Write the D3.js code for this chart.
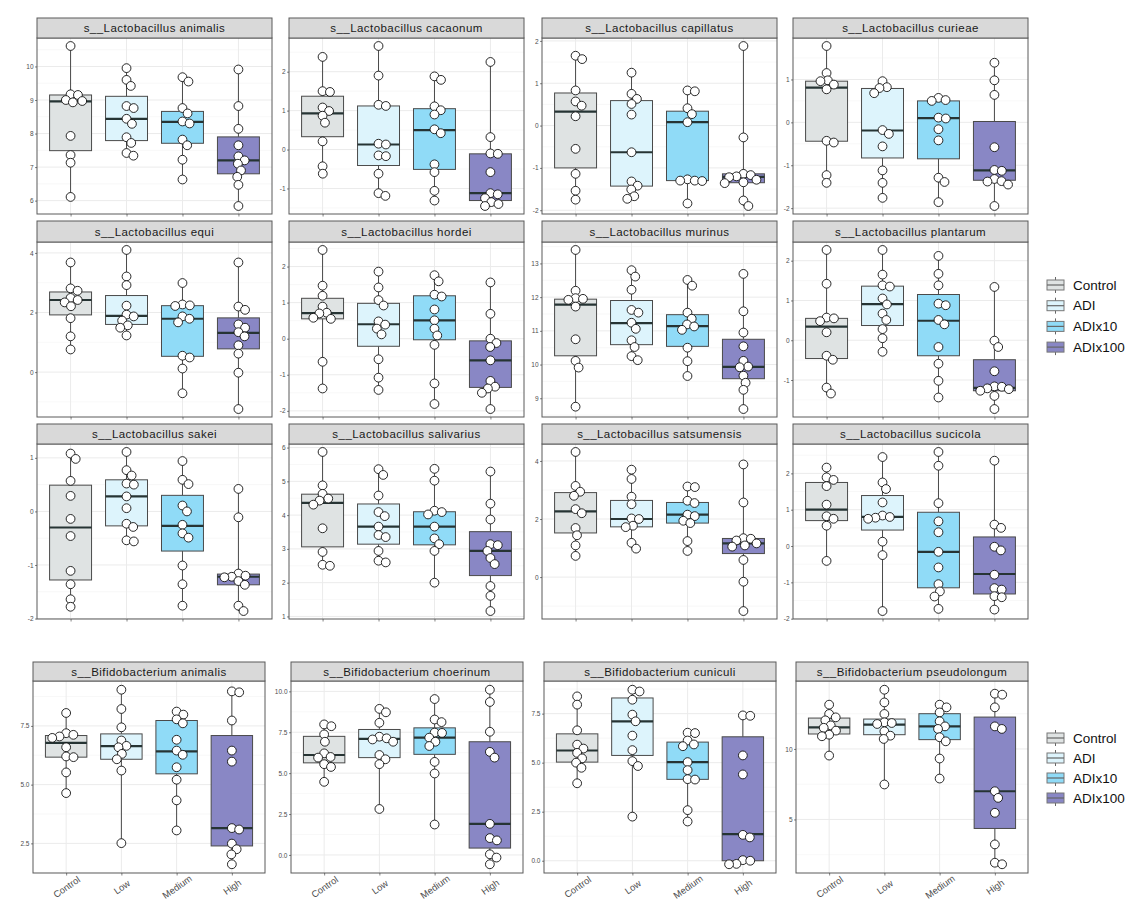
<!DOCTYPE html>
<html><head><meta charset="utf-8">
<script src="https://cdn.jsdelivr.net/npm/d3@7"></script>
<style>body{margin:0;background:#fff}svg{display:block}</style>
</head><body>
<svg id="chart" width="1142" height="914"></svg>
<script>
// ---------- DATA ----------
const groups = ["Control", "ADI", "ADIx10", "ADIx100"];
const doseLabels = ["Control", "Low", "Medium", "High"];
const groupColors = ["#dfe3e3", "#ddf4fc", "#90dbf7", "#8987c5"];

const panelTitles = [
  "s__Lactobacillus animalis", "s__Lactobacillus cacaonum", "s__Lactobacillus capillatus", "s__Lactobacillus curieae",
  "s__Lactobacillus equi", "s__Lactobacillus hordei", "s__Lactobacillus murinus", "s__Lactobacillus plantarum",
  "s__Lactobacillus sakei", "s__Lactobacillus salivarius", "s__Lactobacillus satsumensis", "s__Lactobacillus sucicola",
  "s__Bifidobacterium animalis", "s__Bifidobacterium choerinum", "s__Bifidobacterium cuniculi", "s__Bifidobacterium pseudolongum"
];

const tickLabels = [
  ["6","7","8","9","10"], ["-1","0","1","2"], ["-2","-1","0","1","2"], ["-2","-1","0","1"],
  ["0","2","4"], ["-2","-1","0","1","2"], ["9","10","11","12","13"], ["-1","0","1","2"],
  ["-2","-1","0","1"], ["1","2","3","4","5","6"], ["0","2","4"], ["-2","-1","0","1","2"],
  ["2.5","5.0","7.5"], ["0.0","2.5","5.0","7.5","10.0"], ["0.0","2.5","5.0","7.5"], ["5","10"]
];

// point values per group [Control, Low, Medium, High]
const lAnimalis = [
  [10.61, 9.17, 9.15, 9.0, 8.97, 8.93, 7.93, 7.36, 7.13, 6.11],
  [9.95, 9.6, 9.42, 8.82, 8.76, 8.44, 8.29, 7.89, 7.72, 7.42, 7.34],
  [9.68, 9.55, 8.76, 8.6, 8.36, 8.3, 7.82, 7.65, 7.22, 6.63],
  [9.91, 8.82, 8.14, 7.65, 7.32, 7.2, 7.1, 6.9, 6.71, 6.47, 5.84]];
const lCacaonum = [
  [2.38, 1.5, 1.48, 1.08, 0.99, 0.87, 0.69, 0.21, -0.43, -0.62],
  [2.66, 1.9, 1.15, 1.12, 0.15, 0.13, -0.15, -0.17, -0.62, -1.12, -1.19],
  [1.88, 1.79, 1.11, 1.01, 0.9, 0.52, 0.42, -0.38, -0.58, -1.06, -1.31],
  [2.25, 0.32, -0.1, -0.11, -0.58, -1.12, -1.15, -1.25, -1.35, -1.4, -1.45]];
const lCapillatus = [
  [1.65, 1.57, 0.83, 0.57, 0.47, 0.22, -0.55, -1.14, -1.54, -1.75],
  [1.25, 0.75, 0.63, 0.51, 0.26, -0.63, -1.32, -1.42, -1.51, -1.67, -1.73],
  [0.83, 0.81, 0.41, 0.27, 0.08, -1.27, -1.3, -1.3, -1.31, -1.84],
  [1.88, -0.28, -1.14, -1.17, -1.2, -1.22, -1.28, -1.34, -1.36, -1.77, -1.9]];
const lCurieae = [
  [1.78, 1.15, 0.98, 0.96, 0.88, 0.77, -0.43, -0.47, -1.23, -1.41],
  [0.96, 0.82, 0.8, 0.68, -0.18, -0.27, -0.56, -1.12, -1.41, -1.76],
  [0.57, 0.52, 0.5, 0.11, 0.09, -0.16, -0.42, -1.29, -1.39, -1.86],
  [1.39, 0.98, 0.64, -0.58, -1.11, -1.13, -1.32, -1.37, -1.38, -1.45, -1.95]];
const lEqui = [
  [3.68, 2.81, 2.73, 2.49, 2.42, 2.34, 2.21, 1.81, 1.2, 0.76],
  [4.1, 3.21, 2.92, 2.23, 1.93, 1.87, 1.73, 1.57, 1.49, 1.23],
  [2.99, 2.27, 2.24, 2.22, 1.87, 1.79, 1.67, 0.55, 0.49, 0.12, -0.71],
  [3.68, 2.2, 2.09, 1.6, 1.49, 1.34, 1.2, 0.9, 0.62, -0.02, -1.24]];
const lHordei = [
  [2.46, 1.47, 1.19, 0.89, 0.72, 0.7, 0.58, 0.55, -0.64, -1.38],
  [1.86, 1.42, 1.07, 0.92, 0.48, 0.39, 0.28, 0.12, -0.57, -1.08, -1.42],
  [1.76, 1.59, 1.22, 1.17, 0.81, 0.51, 0.28, 0.09, -0.17, -1.24, -1.81],
  [1.56, 0.69, 0.0, -0.12, -0.23, -0.6, -1.17, -1.33, -1.38, -1.5, -1.95]];
const lMurinus = [
  [13.4, 12.19, 11.97, 11.95, 11.92, 11.72, 10.75, 10.11, 9.91, 8.75],
  [12.8, 12.61, 12.22, 11.62, 11.54, 11.24, 11.06, 10.72, 10.52, 10.25, 10.13],
  [12.51, 12.34, 11.54, 11.36, 11.19, 11.13, 11.03, 10.5, 10.1, 9.66],
  [12.69, 11.58, 10.95, 10.54, 10.11, 9.94, 9.92, 9.67, 9.46, 9.25, 8.68]];
const lPlantarum = [
  [2.27, 1.42, 0.57, 0.55, 0.48, 0.2, -0.39, -0.49, -1.19, -1.34],
  [2.27, 1.65, 1.38, 1.35, 1.05, 0.9, 0.67, 0.51, 0.28, 0.05, -0.29],
  [2.12, 1.67, 1.38, 0.92, 0.88, 0.51, 0.4, -0.17, -0.59, -1.02, -1.44],
  [1.34, -0.01, -0.17, -0.78, -1.16, -1.17, -1.21, -1.23, -1.27, -1.4, -1.73]];
const lSakei = [
  [1.08, 0.98, 0.57, 0.29, -0.14, -0.46, -1.11, -1.36, -1.64, -1.78],
  [1.11, 0.77, 0.67, 0.52, 0.5, 0.28, 0.06, -0.23, -0.29, -0.54, -0.56],
  [0.94, 0.59, 0.51, 0.11, 0.0, -0.25, -0.41, -0.49, -1.01, -1.36, -1.76],
  [0.42, -0.11, -1.16, -1.2, -1.22, -1.23, -1.3, -1.37, -1.76, -1.86]];
const lSalivarius = [
  [5.87, 4.88, 4.63, 4.49, 4.43, 4.31, 3.61, 2.91, 2.53, 2.5],
  [5.36, 5.19, 4.58, 4.09, 3.97, 3.66, 3.41, 3.35, 2.94, 2.65, 2.6],
  [5.37, 5.02, 4.13, 4.09, 4.02, 3.66, 3.31, 3.14, 2.94, 2.0],
  [5.29, 4.34, 3.87, 3.14, 3.11, 2.94, 2.73, 2.55, 1.9, 1.61, 1.16]];
const lSatsumensis = [
  [4.31, 3.14, 2.94, 2.8, 2.34, 2.2, 1.69, 1.44, 1.09, 0.73],
  [3.7, 3.38, 2.77, 2.51, 2.02, 2.0, 1.77, 1.72, 1.18, 0.98],
  [3.12, 3.1, 2.63, 2.55, 2.15, 2.1, 1.94, 1.86, 1.24, 0.9],
  [3.88, 2.57, 1.34, 1.32, 1.26, 1.16, 1.09, 1.05, 0.59, -0.16, -1.17]];
const lSucicola = [
  [2.16, 1.89, 1.82, 1.65, 1.14, 0.82, 0.75, 0.56, -0.41],
  [2.45, 1.75, 1.57, 1.2, 0.84, 0.8, 0.78, 0.75, 0.12, -0.25, -1.79],
  [2.59, 2.21, 1.18, 0.68, 0.38, -0.16, -0.59, -1.05, -1.25, -1.39, -1.73],
  [2.35, 0.59, 0.5, -0.02, -0.12, -0.79, -1.16, -1.2, -1.38, -1.41, -1.75]];
const bAnimalis = [
  [8.05, 7.19, 7.12, 7.05, 6.99, 6.59, 6.2, 6.17, 5.52, 4.64],
  [9.04, 8.22, 7.44, 6.88, 6.65, 6.59, 6.31, 6.08, 5.6, 2.51],
  [8.11, 7.98, 7.78, 7.61, 6.91, 6.45, 6.27, 5.74, 5.21, 4.33, 3.05],
  [8.97, 8.93, 7.73, 6.45, 5.98, 3.15, 3.09, 2.49, 2.25, 2.03, 1.61]];
const bChoerinum = [
  [7.98, 7.87, 7.37, 6.92, 6.21, 5.99, 5.95, 5.55, 5.38, 4.47],
  [8.93, 8.72, 8.08, 7.23, 7.13, 7.06, 6.92, 6.11, 5.85, 5.55, 2.81],
  [9.53, 8.28, 8.12, 7.48, 7.46, 7.17, 6.92, 6.66, 5.69, 4.98, 1.86],
  [10.1, 9.35, 7.53, 6.3, 5.95, 1.9, 1.03, 0.89, 0.04, -0.16, -0.57]];
const bCuniculi = [
  [8.38, 7.96, 6.65, 5.92, 5.72, 5.5, 5.22, 5.0, 4.74, 3.95],
  [8.72, 8.63, 8.21, 7.45, 7.11, 6.38, 5.64, 5.08, 4.83, 2.25],
  [6.53, 6.51, 6.13, 5.93, 5.84, 5.03, 4.62, 4.16, 4.14, 2.58, 2.0],
  [7.41, 7.39, 5.37, 4.4, 1.32, 1.19, 0.03, 0.0, -0.16, -0.18]];
const bPseudolongum = [
  [13.14, 12.48, 12.24, 12.03, 11.67, 11.5, 11.3, 11.01, 10.9, 9.53],
  [14.2, 13.3, 12.48, 11.89, 11.84, 11.77, 11.25, 10.94, 10.71, 7.48],
  [13.14, 12.95, 12.59, 11.96, 11.6, 11.42, 10.83, 10.54, 9.32, 7.9],
  [13.92, 13.85, 12.95, 11.6, 11.42, 7.0, 6.53, 5.47, 3.23, 1.93, 1.82]];

// box statistics per group [q1, median, q3]
const lAnimalisBox = [[7.49, 8.96, 9.15], [7.79, 8.44, 9.11], [7.71, 8.35, 8.66], [6.8, 7.2, 7.9]];
const lCacaonumBox = [[0.33, 0.93, 1.37], [-0.41, 0.13, 1.12], [-0.51, 0.5, 1.05], [-1.31, -1.12, -0.11]];
const lCapillatusBox = [[-1.0, 0.33, 0.77], [-1.43, -0.63, 0.59], [-1.3, 0.08, 0.34], [-1.35, -1.21, -1.14]];
const lCurieaeBox = [[-0.44, 0.81, 0.96], [-0.83, -0.19, 0.79], [-0.85, 0.1, 0.5], [-1.35, -1.12, 0.02]];
const lEquiBox = [[1.92, 2.42, 2.69], [1.6, 1.89, 2.57], [0.53, 1.79, 2.23], [0.78, 1.32, 1.82]];
const lHordeiBox = [[0.55, 0.71, 1.12], [-0.21, 0.4, 0.98], [-0.03, 0.51, 1.19], [-1.35, -0.6, -0.06]];
const lMurinusBox = [[10.26, 11.78, 11.94], [10.59, 11.23, 11.9], [10.54, 11.14, 11.48], [9.58, 9.93, 10.75]];
const lPlantarumBox = [[-0.46, 0.34, 0.55], [0.37, 0.91, 1.36], [-0.39, 0.49, 1.15], [-1.27, -1.2, -0.49]];
const lSakeiBox = [[-1.28, -0.3, 0.49], [-0.27, 0.28, 0.59], [-0.74, -0.27, 0.3], [-1.37, -1.22, -1.17]];
const lSalivariusBox = [[3.06, 4.36, 4.62], [3.14, 3.66, 4.33], [3.12, 3.66, 4.1], [2.21, 2.94, 3.51]];
const lSatsumensisBox = [[1.52, 2.26, 2.91], [1.73, 2.0, 2.64], [1.86, 2.15, 2.57], [0.81, 1.16, 1.33]];
const lSucicolaBox = [[0.7, 1.0, 1.75], [0.44, 0.8, 1.39], [-1.15, -0.16, 0.93], [-1.32, -0.77, 0.25]];
const bAnimalisBox = [[6.17, 6.78, 7.09], [6.08, 6.64, 7.16], [5.46, 6.42, 7.73], [2.39, 3.15, 7.09]];
const bChoerinumBox = [[5.63, 6.11, 7.25], [5.95, 7.09, 7.67], [6.15, 7.17, 7.77], [0.42, 1.9, 6.92]];
const bCuniculiBox = [[5.03, 5.62, 6.47], [5.37, 7.11, 8.3], [4.15, 5.03, 6.05], [0.0, 1.36, 6.32]];
const bPseudolongumBox = [[11.06, 11.53, 12.19], [11.01, 11.72, 12.12], [10.66, 11.6, 12.5], [4.36, 7.0, 12.26]];

const panelValues = [lAnimalis, lCacaonum, lCapillatus, lCurieae, lEqui, lHordei, lMurinus, lPlantarum,
  lSakei, lSalivarius, lSatsumensis, lSucicola, bAnimalis, bChoerinum, bCuniculi, bPseudolongum];
const panelBoxes = [lAnimalisBox, lCacaonumBox, lCapillatusBox, lCurieaeBox, lEquiBox, lHordeiBox, lMurinusBox, lPlantarumBox,
  lSakeiBox, lSalivariusBox, lSatsumensisBox, lSucicolaBox, bAnimalisBox, bChoerinumBox, bCuniculiBox, bPseudolongumBox];

// ---------- LAYOUT ----------
const rowLayout = [
  {top: 18, stripH: 20, bottom: 214, lefts: [37, 289, 542, 793], width: 235, xText: false},
  {top: 221, stripH: 21, bottom: 417, lefts: [37, 289, 542, 793], width: 235, xText: false},
  {top: 424, stripH: 20, bottom: 619, lefts: [37, 289, 542, 793], width: 235, xText: false},
  {top: 662, stripH: 19, bottom: 873, lefts: [33, 291, 544, 796], width: 232, xText: true}
];
const legendLayout = [{y0: 285, step: 20.7}, {y0: 738, step: 20}];

const svg = d3.select("#chart");
const FONT = "'Liberation Sans', Arial, Helvetica, sans-serif";
const R = 4.4, MIN_D = 7.4;

function swarm(vals, y) {
  // beeswarm offsets: each point gets the smallest horizontal shift avoiding close neighbours
  const order = vals.map((v, i) => i).sort((a, b) => vals[b] - vals[a]);
  const placed = [];
  const off = new Array(vals.length).fill(0);
  order.forEach(i => {
    const py = y(vals[i]);
    const intervals = [];
    placed.forEach(p => {
      const dy = Math.abs(p.y - py);
      if (dy < MIN_D) {
        const w = Math.sqrt(MIN_D * MIN_D - dy * dy);
        intervals.push([p.x - w, p.x + w]);
      }
    });
    const cands = [0];
    intervals.forEach(iv => { cands.push(iv[0], iv[1]); });
    const ok = cands.filter(c => intervals.every(iv => c <= iv[0] + 1e-6 || c >= iv[1] - 1e-6));
    ok.sort((a, b) => (Math.abs(a) - Math.abs(b)) || (b - a));
    const xo = ok[0];
    off[i] = xo;
    placed.push({x: xo, y: py});
  });
  return off;
}

panelTitles.forEach((title, i) => {
  const row = Math.floor(i / 4), col = i % 4;
  const L = rowLayout[row];
  const x0 = L.lefts[col], w = L.width;
  const plotTop = L.top + L.stripH, plotBottom = L.bottom;
  const vals = panelValues[i], boxes = panelBoxes[i];
  const all = vals.flat();
  const [mn, mx] = d3.extent(all);
  const pad = (mx - mn) * 0.05;
  const y = d3.scaleLinear().domain([mn - pad, mx + pad]).range([plotBottom, plotTop]);
  const x = d3.scalePoint().domain(doseLabels).range([x0, x0 + w]).padding(0.6);
  const labels = tickLabels[i];
  const ticks = labels.map(Number);
  const step = ticks[1] - ticks[0];
  const g = svg.append("g");

  g.append("rect").attr("x", x0).attr("y", plotTop).attr("width", w).attr("height", plotBottom - plotTop).attr("fill", "#fff");

  // minor grid
  const minor = [];
  for (let t = ticks[0] - step / 2; t <= y.domain()[1]; t += step) {
    if (t >= y.domain()[0]) minor.push(t);
  }
  g.selectAll(".minor").data(minor).join("line")
    .attr("x1", x0).attr("x2", x0 + w).attr("y1", d => y(d)).attr("y2", d => y(d))
    .attr("stroke", "#f3f3f3").attr("stroke-width", 0.6);
  // major grid
  g.selectAll(".major").data(ticks).join("line")
    .attr("x1", x0).attr("x2", x0 + w).attr("y1", d => y(d)).attr("y2", d => y(d))
    .attr("stroke", "#ebebeb").attr("stroke-width", 1);
  g.selectAll(".vmajor").data(doseLabels).join("line")
    .attr("x1", d => x(d)).attr("x2", d => x(d)).attr("y1", plotTop).attr("y2", plotBottom)
    .attr("stroke", "#ebebeb").attr("stroke-width", 1);

  const bw = x.step() * 0.75;
  doseLabels.forEach((d, j) => {
    const cx = x(d);
    const [q1, med, q3] = boxes[j];
    const [lo, hi] = d3.extent(vals[j]);
    g.append("line").attr("x1", cx).attr("x2", cx).attr("y1", y(hi)).attr("y2", y(q3))
      .attr("stroke", "#4a4a4a").attr("stroke-width", 1);
    g.append("line").attr("x1", cx).attr("x2", cx).attr("y1", y(q1)).attr("y2", y(lo))
      .attr("stroke", "#4a4a4a").attr("stroke-width", 1);
    g.append("rect").attr("x", cx - bw / 2).attr("y", y(q3)).attr("width", bw)
      .attr("height", Math.max(0.5, y(q1) - y(q3)))
      .attr("fill", groupColors[j]).attr("stroke", "#4a4a4a").attr("stroke-width", 1);
    g.append("line").attr("x1", cx - bw / 2).attr("x2", cx + bw / 2).attr("y1", y(med)).attr("y2", y(med))
      .attr("stroke", "#263434").attr("stroke-width", 2.2);
  });
  doseLabels.forEach((d, j) => {
    const cx = x(d);
    const offs = swarm(vals[j], y);
    g.selectAll(null).data(vals[j]).join("circle")
      .attr("cx", (v, k) => cx + offs[k]).attr("cy", v => y(v)).attr("r", R)
      .attr("fill", "#fff").attr("stroke", "#111").attr("stroke-width", 0.9);
  });

  // panel border
  g.append("rect").attr("x", x0).attr("y", plotTop).attr("width", w).attr("height", plotBottom - plotTop)
    .attr("fill", "none").attr("stroke", "#5a5a5a").attr("stroke-width", 1);
  // strip
  g.append("rect").attr("x", x0).attr("y", L.top).attr("width", w).attr("height", L.stripH)
    .attr("fill", "#d9d9d9").attr("stroke", "#5a5a5a").attr("stroke-width", 1);
  g.append("text").attr("x", x0 + w / 2).attr("y", L.top + L.stripH / 2).attr("dy", "0.36em")
    .attr("text-anchor", "middle").attr("font-family", FONT).attr("font-size", 11.5)
    .attr("letter-spacing", 0.45).attr("fill", "#1a1a1a")
    .text(title);

  // y axis
  const ya = g.append("g").attr("transform", `translate(${x0},0)`)
    .call(d3.axisLeft(y).tickValues(ticks).tickFormat((d, k) => labels[k]).tickSize(2).tickPadding(1.5));
  ya.select(".domain").remove();
  ya.selectAll(".tick line").attr("stroke", "#333").attr("stroke-width", 0.6);
  ya.selectAll(".tick text").attr("font-family", FONT).attr("font-size", 6.5).attr("fill", "#4d4d4d");

  // x axis
  const xa = g.append("g").attr("transform", `translate(0,${plotBottom})`)
    .call(d3.axisBottom(x).tickSize(2.5).tickFormat(d => L.xText ? d : ""));
  xa.select(".domain").remove();
  xa.selectAll(".tick line").attr("stroke", "#333").attr("stroke-width", 0.6);
  if (L.xText) {
    xa.selectAll(".tick text").attr("y", 0).attr("dy", "0.35em")
      .attr("transform", "translate(0,14) rotate(-35)")
      .attr("text-anchor", "middle").attr("font-family", FONT).attr("font-size", 9.4).attr("fill", "#4d4d4d");
  }
});

// ---------- LEGENDS ----------
legendLayout.forEach(lg => {
  const gl = svg.append("g");
  groups.forEach((name, j) => {
    const cy = lg.y0 + j * lg.step;
    const kx = 1047, kw = 17;
    gl.append("line").attr("x1", kx + kw / 2).attr("x2", kx + kw / 2).attr("y1", cy - 8).attr("y2", cy + 8)
      .attr("stroke", "#666").attr("stroke-width", 1);
    gl.append("rect").attr("x", kx).attr("y", cy - 5).attr("width", kw).attr("height", 10)
      .attr("fill", groupColors[j]).attr("stroke", "#777").attr("stroke-width", 1);
    gl.append("line").attr("x1", kx).attr("x2", kx + kw).attr("y1", cy).attr("y2", cy)
      .attr("stroke", "#666").attr("stroke-width", 1.2);
    gl.append("text").attr("x", 1073).attr("y", cy).attr("dy", "0.35em")
      .attr("font-family", FONT).attr("font-size", 13.5).attr("fill", "#111").text(name);
  });
});
</script>
</body></html>
